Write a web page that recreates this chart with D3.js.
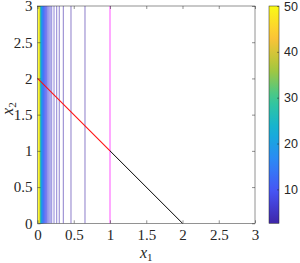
<!DOCTYPE html>
<meta charset="utf-8">
<style>
body { margin: 0; background: #fff; }
.tick text { font-family: "Liberation Serif", "DejaVu Serif", serif; font-size: 15px; fill: #262626; }
.cbar .tick text { font-family: "Liberation Sans", Arial, sans-serif; font-size: 12.5px; }
.tick line { stroke: #262626; stroke-width: 0.5; }
</style>
<svg width="300" height="263"></svg>
<script src="https://d3js.org/d3.v7.min.js"></script>
<script>
// data
var xTicks = [0, 0.5, 1, 1.5, 2, 2.5, 3];
var yTicks = [0, 0.5, 1, 1.5, 2, 2.5, 3];
var cbTicks = [10, 20, 30, 40, 50];
var cbRange = [2.6, 50];
// vertical contour lines: x1 position and level
var contourX1 = [0.655, 0.462, 0.356, 0.300, 0.265, 0.228, 0.196, 0.175, 0.159, 0.145,
  0.133, 0.123, 0.115, 0.108, 0.101, 0.095, 0.090, 0.085, 0.081, 0.078,
  0.074, 0.071, 0.068, 0.065, 0.063, 0.061, 0.058, 0.056, 0.055, 0.053,
  0.051, 0.050, 0.048, 0.045, 0.042, 0.038, 0.036, 0.033, 0.030, 0.028,
  0.025, 0.023, 0.021, 0.016, 0.011];
var contourLevel = [1.53, 2.16, 2.81, 3.33, 3.77, 4.39, 5.10, 5.7, 6.3, 6.9,
  7.5, 8.1, 8.7, 9.3, 9.9, 10.5, 11.1, 11.7, 12.3, 12.9,
  13.5, 14.1, 14.7, 15.3, 15.9, 16.5, 17.1, 17.7, 18.3, 18.9,
  19.5, 20.1, 20.7, 22, 24, 26, 28, 30, 33, 36,
  40, 44, 48, 50, 50];
var lineX = [0, 1, 2];
var lineY = [2, 1, 0];
var constraintX1 = 1;

var parula = ["#3e26a8", "#4752f4", "#2d87f7", "#12b1d6", "#37c897", "#abc739", "#fec338", "#f9fb15"];

var svg = d3.select("svg");
var pL = 37.5, pR = 255, pT = 6, pB = 223.3;

var x = d3.scaleLinear().domain([0, 3]).range([pL, pR]);
var y = d3.scaleLinear().domain([0, 3]).range([pB, pT]);
var color = d3.scaleSequential(d3.piecewise(d3.interpolateRgb, parula)).domain(cbRange).clamp(true);

var g = svg.append("g");

// contour lines
g.selectAll(".cl")
  .data(contourX1)
  .enter().append("line")
    .attr("class", "cl")
    .attr("x1", function(d) { return x(d); })
    .attr("x2", function(d) { return x(d); })
    .attr("y1", y(0))
    .attr("y2", y(3))
    .attr("stroke", function(d, i) { return color(contourLevel[i]); })
    .attr("stroke-width", 0.6);

// constraint line
g.append("line")
  .attr("x1", x(constraintX1)).attr("x2", x(constraintX1))
  .attr("y1", y(0)).attr("y2", y(3))
  .attr("stroke", "#ff55ff").attr("stroke-width", 1);

// red / black segments
g.append("line")
  .attr("x1", x(lineX[0])).attr("y1", y(lineY[0]))
  .attr("x2", x(lineX[1])).attr("y2", y(lineY[1]))
  .attr("stroke", "#ff1010").attr("stroke-width", 1.1);
g.append("line")
  .attr("x1", x(lineX[1])).attr("y1", y(lineY[1]))
  .attr("x2", x(lineX[2])).attr("y2", y(lineY[2]))
  .attr("stroke", "#000").attr("stroke-width", 1);

// axes (ticks inside)
var fmt = function(d) { return d3.format("")(d); };
g.append("g").attr("transform", "translate(0," + pB + ")")
  .call(d3.axisBottom(x).tickValues(xTicks).tickSize(-3).tickFormat(fmt))
  .call(function(a) { a.select(".domain").remove(); a.selectAll("text").attr("y", 17).attr("dy", 0); });
g.append("g").attr("transform", "translate(0," + pT + ")")
  .call(d3.axisTop(x).tickValues(xTicks).tickSize(-3).tickFormat(""))
  .call(function(a) { a.select(".domain").remove(); });
g.append("g").attr("transform", "translate(" + pL + ",0)")
  .call(d3.axisLeft(y).tickValues(yTicks).tickSize(-3).tickPadding(5).tickFormat(fmt))
  .call(function(a) { a.select(".domain").remove(); });
g.append("g").attr("transform", "translate(" + pR + ",0)")
  .call(d3.axisRight(y).tickValues(yTicks).tickSize(-3).tickFormat(""))
  .call(function(a) { a.select(".domain").remove(); });

g.append("rect")
  .attr("x", pL).attr("y", pT)
  .attr("width", pR - pL).attr("height", pB - pT)
  .attr("fill", "none").attr("stroke", "#262626").attr("stroke-width", 0.5);

// axis labels
var xl = svg.append("text")
  .attr("x", (pL + pR) / 2).attr("y", 258)
  .attr("text-anchor", "middle")
  .style("font-family", "'Liberation Serif', serif").style("font-size", "16px").attr("fill", "#262626");
xl.append("tspan").style("font-style", "italic").text("x");
xl.append("tspan").attr("dy", 3).style("font-size", "11px").text("1");

var yl = svg.append("text")
  .attr("transform", "translate(13," + ((pT + pB) / 2 - 6) + ") rotate(-90)")
  .attr("text-anchor", "middle")
  .style("font-family", "'Liberation Serif', serif").style("font-size", "16px").attr("fill", "#262626");
yl.append("tspan").style("font-style", "italic").text("x");
yl.append("tspan").attr("dy", 3).style("font-size", "11px").text("2");

// colorbar
var cbL = 269, cbW = 10;
var cy = d3.scaleLinear().domain(cbRange).range([pB, pT]);
var grad = svg.append("defs").append("linearGradient")
  .attr("id", "cbgrad").attr("x1", 0).attr("y1", 1).attr("x2", 0).attr("y2", 0);
d3.range(0, 1.0001, 0.05).forEach(function(t) {
  grad.append("stop").attr("offset", t)
    .attr("stop-color", color(cbRange[0] + t * (cbRange[1] - cbRange[0])));
});
svg.append("rect")
  .attr("x", cbL).attr("y", pT)
  .attr("width", cbW).attr("height", pB - pT)
  .attr("fill", "url(#cbgrad)").attr("stroke", "#262626").attr("stroke-width", 0.5);
svg.append("g").attr("class", "cbar").attr("transform", "translate(" + (cbL + cbW) + ",0)")
  .call(d3.axisRight(cy).tickValues(cbTicks).tickSize(-2).tickPadding(5))
  .call(function(a) { a.select(".domain").remove(); });
</script>
